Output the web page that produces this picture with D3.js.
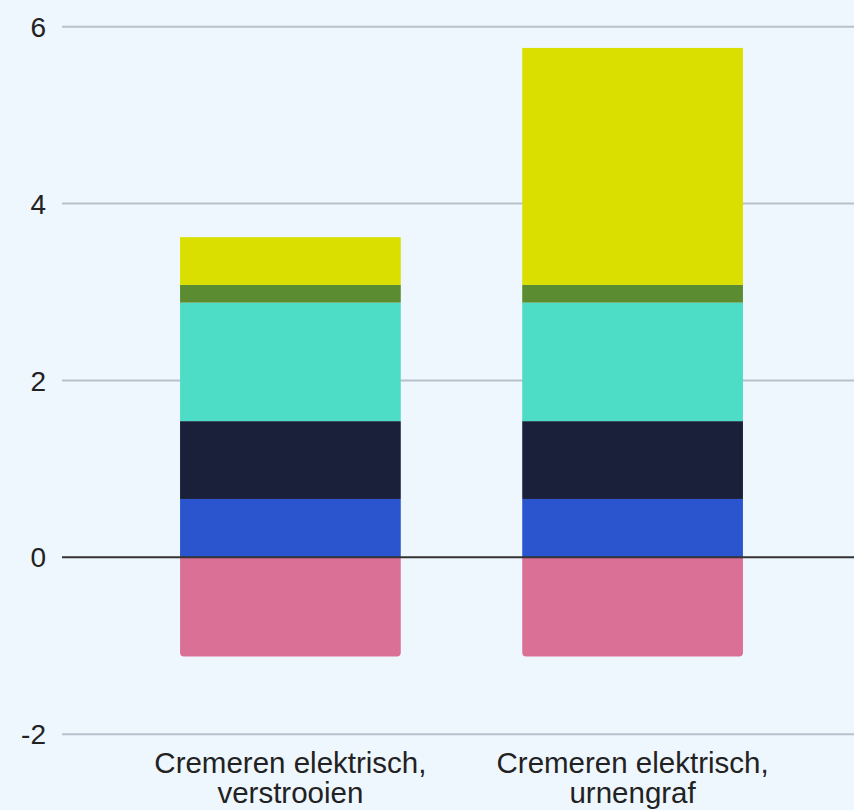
<!DOCTYPE html>
<html>
<head>
<meta charset="utf-8">
<script src="https://cdn.jsdelivr.net/npm/d3@7"></script>
<style>
  html, body { margin: 0; padding: 0; background: #eef6fe; }
  svg { display: block; }
  text { font-family: "Liberation Sans", Arial, sans-serif; fill: #222; }
</style>
</head>
<body>
<svg id="chart" width="854" height="810"></svg>
<script>
// Categories (two lines each)
const categories = ["Cremeren elektrisch, verstrooien", "Cremeren elektrisch, urnengraf"];
const categoryLines = [["Cremeren elektrisch,", "verstrooien"], ["Cremeren elektrisch,", "urnengraf"]];

// Stacked components, bottom-up for positives; one negative component
const seriesNames = ["negatief", "blauw", "donker", "turquoise", "groen", "geel"];
const seriesColors = ["#db7096", "#2a55cf", "#1a1f3a", "#4ddcc6", "#5b8c32", "#dadf00"];
const negatief  = [-1.12, -1.12];
const blauw     = [0.66, 0.66];
const donker    = [0.88, 0.88];
const turquoise = [1.34, 1.34];
const groen     = [0.20, 0.20];
const geel      = [0.54, 2.68];
const seriesValues = [negatief, blauw, donker, turquoise, groen, geel];

const yTicks = [-2, 0, 2, 4, 6];

const svg = d3.select("#chart");
const W = 854;

const x = d3.scaleBand()
  .domain(categories)
  .range([62, 861])
  .paddingInner(0.355)
  .paddingOuter(0.345);

const y = d3.scaleLinear()
  .domain([-2, 6])
  .range([734.2, 26.7]);

// Grid lines
svg.append("g")
  .selectAll("line")
  .data(yTicks.filter(d => d !== 0))
  .join("line")
  .attr("x1", 62).attr("x2", W)
  .attr("y1", d => y(d)).attr("y2", d => y(d))
  .attr("stroke", "#b9c2cc")
  .attr("stroke-width", 2);

// Tick labels
svg.append("g")
  .selectAll("text")
  .data(yTicks)
  .join("text")
  .attr("x", 46)
  .attr("y", d => y(d))
  .attr("dy", "0.36em")
  .attr("text-anchor", "end")
  .attr("font-size", 28)
  .text(d => d);

// Build stacked segments
const segments = [];
categories.forEach((c, ci) => {
  let pos = 0, neg = 0;
  seriesValues.forEach((vals, si) => {
    const v = vals[ci];
    let y0, y1;
    if (v >= 0) { y0 = pos; y1 = pos + v; pos = y1; }
    else { y0 = neg + v; y1 = neg; neg = y0; }
    segments.push({ c, si, y0, y1, neg: v < 0 });
  });
});

const r = 4;
const gBars = svg.append("g");
segments.forEach(s => {
  const x0 = x(s.c), bw = x.bandwidth();
  const top = y(s.y1), bot = y(s.y0);
  if (s.neg) {
    // rounded bottom corners only
    const p = d3.path();
    p.moveTo(x0, top);
    p.lineTo(x0 + bw, top);
    p.lineTo(x0 + bw, bot - r);
    p.quadraticCurveTo(x0 + bw, bot, x0 + bw - r, bot);
    p.lineTo(x0 + r, bot);
    p.quadraticCurveTo(x0, bot, x0, bot - r);
    p.closePath();
    gBars.append("path").attr("d", p.toString()).attr("fill", seriesColors[s.si]);
  } else {
    gBars.append("rect")
      .attr("x", x0).attr("width", bw)
      .attr("y", top).attr("height", bot - top)
      .attr("fill", seriesColors[s.si]);
  }
});

// Zero line
svg.append("line")
  .attr("x1", 62).attr("x2", W)
  .attr("y1", y(0)).attr("y2", y(0))
  .attr("stroke", "#333")
  .attr("stroke-width", 2);

// Category labels
const gLab = svg.append("g");
categories.forEach((c, i) => {
  const t = gLab.append("text")
    .attr("x", x(c) + x.bandwidth() / 2)
    .attr("y", 773)
    .attr("text-anchor", "middle")
    .attr("font-size", 29.5);
  categoryLines[i].forEach((line, li) => {
    t.append("tspan")
      .attr("x", x(c) + x.bandwidth() / 2)
      .attr("dy", li === 0 ? 0 : 30)
      .text(line);
  });
});
</script>
</body>
</html>
